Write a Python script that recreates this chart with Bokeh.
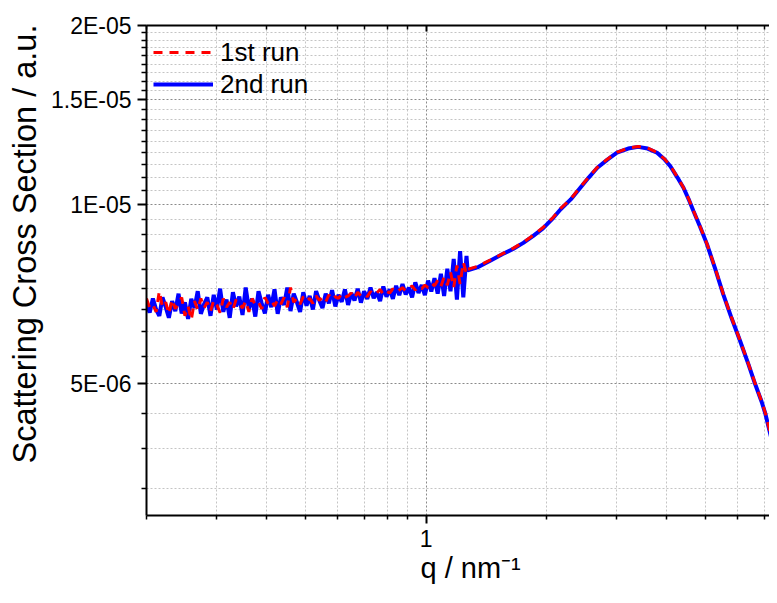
from bokeh.plotting import figure
from bokeh.models import FixedTicker, LogAxis, Legend, LegendItem, Range1d, Title
from bokeh.embed import file_html
from bokeh.resources import INLINE

# ---------------- data ----------------
# noisy low-q region, q in nm^-1
q_noisy = [0.2000, 0.2037, 0.2075, 0.2114, 0.2153, 0.2193, 0.2234, 0.2275, 0.2318, 0.2361,
           0.2405, 0.2449, 0.2495, 0.2541, 0.2588, 0.2637, 0.2686, 0.2735, 0.2786, 0.2838,
           0.2891, 0.2945, 0.2999, 0.3055, 0.3112, 0.3170, 0.3229, 0.3289, 0.3350, 0.3412,
           0.3476, 0.3540, 0.3606, 0.3673, 0.3741, 0.3811, 0.3882, 0.3954, 0.4027, 0.4102,
           0.4179, 0.4256, 0.4335, 0.4416, 0.4498, 0.4582, 0.4667, 0.4754, 0.4842, 0.4932,
           0.5024, 0.5117, 0.5212, 0.5309, 0.5408, 0.5508, 0.5611, 0.5715, 0.5821, 0.5930,
           0.6040, 0.6152, 0.6267, 0.6383, 0.6502, 0.6623, 0.6746, 0.6871, 0.6999, 0.7129,
           0.7262, 0.7397, 0.7534, 0.7674, 0.7817, 0.7962, 0.8110, 0.8261, 0.8415, 0.8571,
           0.8730, 0.8893, 0.9058, 0.9226, 0.9398, 0.9573, 0.9751, 0.9932, 1.0117, 1.0305,
           1.0496, 1.0691, 1.0890, 1.1093, 1.1299, 1.1509, 1.1723, 1.1941, 1.2163, 1.2389,
           1.2619]

# 1st run (red), units of 1e-6 a.u.
run1_noisy = [6.95, 6.70, 6.78, 6.60, 7.15, 6.72, 6.85, 6.55, 6.92, 6.68,
              6.80, 6.98, 6.50, 6.75, 6.40, 6.88, 6.65, 6.95, 6.70, 6.85,
              6.62, 6.90, 6.78, 6.58, 6.95, 6.72, 6.85, 6.66, 6.92, 6.80,
              6.70, 6.88, 6.60, 6.95, 6.78, 6.85, 6.68, 6.98, 6.82, 6.90,
              6.75, 6.92, 6.80, 6.98, 6.72, 7.25, 6.85, 6.95, 6.80, 7.00,
              6.88, 6.95, 6.82, 7.02, 6.90, 6.98, 6.86, 7.05, 6.92, 7.00,
              6.95, 7.08, 6.98, 7.02, 7.10, 6.96, 7.12, 7.02, 7.08, 7.00,
              7.14, 7.05, 7.10, 7.20, 7.06, 7.15, 7.10, 7.22, 7.12, 7.18,
              7.25, 7.15, 7.22, 7.30, 7.18, 7.28, 7.22, 7.32, 7.25, 7.38,
              7.30, 7.45, 7.28, 7.55, 7.32, 7.70, 7.25, 7.90, 7.35, 8.00,
              7.65]

# 2nd run (blue), units of 1e-6 a.u.
run2_noisy = [6.80, 6.58, 6.95, 6.66, 6.50, 6.98, 6.72, 6.45, 6.88, 6.62,
              7.08, 6.56, 6.85, 6.42, 6.94, 6.70, 7.15, 6.55, 6.80, 6.98,
              6.50, 7.05, 6.66, 7.22, 6.60, 6.92, 6.45, 7.12, 6.74, 7.00,
              6.52, 7.25, 6.68, 6.95, 6.48, 7.15, 6.82, 6.56, 7.05, 6.72,
              7.20, 6.55, 6.98, 6.78, 7.25, 6.62, 7.08, 6.85, 6.60, 7.12,
              6.76, 7.02, 6.66, 7.15, 6.90, 6.70, 7.08, 6.82, 7.18, 6.74,
              7.05, 6.86, 7.20, 6.78, 7.10, 6.90, 7.22, 6.84, 7.15, 6.94,
              7.25, 6.96, 7.12, 6.88, 7.28, 7.00, 7.20, 6.94, 7.30, 7.04,
              7.35, 7.06, 7.25, 6.98, 7.40, 7.10, 7.32, 7.04, 7.45, 7.14,
              7.52, 7.08, 7.65, 7.02, 7.80, 7.15, 8.10, 6.92, 8.35, 6.98,
              8.20]

# smooth high-q region
q_smooth = [1.27, 1.35, 1.45, 1.55, 1.65, 1.75, 1.85, 1.96, 2.08, 2.17,
            2.30, 2.43, 2.55, 2.68, 2.84, 3.00, 3.20, 3.39, 3.58, 3.78,
            3.95, 4.08, 4.25, 4.40, 4.55, 4.66, 4.85, 5.04, 5.28, 5.53,
            5.80, 6.10, 6.40, 6.64, 6.90, 7.05, 7.26, 7.40, 7.55]
run1_smooth = [7.78, 7.88, 8.07, 8.26, 8.44, 8.64, 8.87, 9.15, 9.52, 9.85,
               10.22, 10.70, 11.12, 11.55, 11.92, 12.24, 12.44, 12.52, 12.44, 12.23,
               11.92, 11.62, 11.12, 10.68, 10.16, 9.76, 9.16, 8.58, 7.82, 7.08,
               6.46, 5.90, 5.39, 5.01, 4.67, 4.46, 4.11, 3.89, 3.73]
run2_smooth = [7.75, 7.85, 8.05, 8.25, 8.42, 8.62, 8.85, 9.12, 9.50, 9.82,
               10.20, 10.67, 11.10, 11.53, 11.90, 12.22, 12.42, 12.50, 12.42, 12.22,
               11.90, 11.60, 11.10, 10.67, 10.15, 9.75, 9.15, 8.57, 7.80, 7.07,
               6.45, 5.89, 5.38, 5.00, 4.66, 4.45, 4.10, 3.88, 3.72]

x_major = [1]
x_major_labels = ["1"]
x_minor = [0.2, 0.3, 0.4, 0.5, 0.6, 0.7, 0.8, 0.9, 2, 3, 4, 5, 6, 7]
y_major = [5e-6, 1e-5, 1.5e-5, 2e-5]
y_major_labels = ["5E-06", "1E-05", "1.5E-05", "2E-05"]
y_step = 5e-6 / 9
y_minor = [m - k * y_step for m in [2e-5, 1.5e-5, 1e-5, 5e-6] for k in range(1, 9)
           if m - k * y_step > 3e-6]

SCALE = 1e-6
q1 = q_noisy + q_smooth
y1 = [v * SCALE for v in run1_noisy + run1_smooth]
q2 = q_noisy + q_smooth
y2 = [v * SCALE for v in run2_noisy + run2_smooth]

FONT = "Liberation Sans"

p = figure(width=769, height=595, x_axis_type="log", y_axis_type="log",
           x_range=Range1d(0.2, 7.22), y_range=Range1d(3e-6, 2e-5),
           output_backend="svg", toolbar_location=None,
           min_border_left=146, min_border_right=0, min_border_top=25,
           min_border_bottom=80)
p.outline_line_color = None
p.background_fill_color = "white"
p.border_fill_color = "white"

xt = FixedTicker(ticks=x_major, minor_ticks=x_minor)
yt = FixedTicker(ticks=y_major, minor_ticks=y_minor)

p.xaxis.ticker = xt
p.xaxis.major_label_overrides = {v: s for v, s in zip(x_major, x_major_labels)}
p.yaxis.ticker = yt
p.yaxis.major_label_overrides = {v: s for v, s in zip(y_major, y_major_labels)}

for ax in list(p.xaxis) + list(p.yaxis):
    ax.axis_line_width = 2
    ax.axis_line_color = "black"
    ax.major_tick_line_width = 2
    ax.minor_tick_line_width = 1.5
    ax.major_tick_in = 0
    ax.minor_tick_in = 0
    ax.major_label_text_font = FONT
    ax.major_label_text_font_size = "23px"
    ax.major_label_text_color = "black"

p.xaxis.major_tick_out = 8
p.xaxis.minor_tick_out = 4
p.xaxis.major_label_standoff = 6
p.yaxis.major_tick_out = 9
p.yaxis.minor_tick_out = 5
p.yaxis.major_label_standoff = 6

ytitle = Title(text="Scattering Cross Section / a.u.", align="left", offset=52,
               text_font=FONT, text_font_size="32.5px", text_font_style="normal",
               text_color="black", standoff=9)
p.add_layout(ytitle, "left")

xtitle = Title(text="q / nm\u207b\u00b9", align="left", offset=274,
               text_font=FONT, text_font_size="29px", text_font_style="normal",
               text_color="black", standoff=0, text_line_height=1.2)
p.add_layout(xtitle, "below")

top = LogAxis(ticker=xt, axis_line_width=2, major_tick_line_width=2,
              minor_tick_line_width=1.5, major_tick_in=6, major_tick_out=0,
              minor_tick_in=4, minor_tick_out=0,
              major_label_text_font_size="6px", major_label_text_alpha=0,
              major_label_standoff=0)
p.add_layout(top, "above")

for g, t in ((p.xgrid, xt), (p.ygrid, yt)):
    g.ticker = t
    g.grid_line_color = "#8a8a8a"
    g.grid_line_dash = "2 2"
    g.grid_line_width = 1
    g.minor_grid_line_color = "#c4c4c4"
    g.minor_grid_line_dash = "2 2"
    g.minor_grid_line_width = 1

r2 = p.line(q2, y2, line_color="#0000ff", line_width=4)
r1 = p.line(q1, y1, line_color="#ff0000", line_width=3, line_dash="9 7")

legend = Legend(items=[LegendItem(label="1st run", renderers=[r1]),
                       LegendItem(label="2nd run", renderers=[r2])],
                location=(7, 415), margin=0, padding=0, spacing=0,
                glyph_width=60, glyph_height=32, label_height=32,
                label_standoff=7, border_line_color=None,
                background_fill_alpha=0,
                label_text_font=FONT, label_text_font_size="26px",
                label_text_color="black")
p.add_layout(legend)

open("out.html", "w").write(file_html(p, INLINE))
